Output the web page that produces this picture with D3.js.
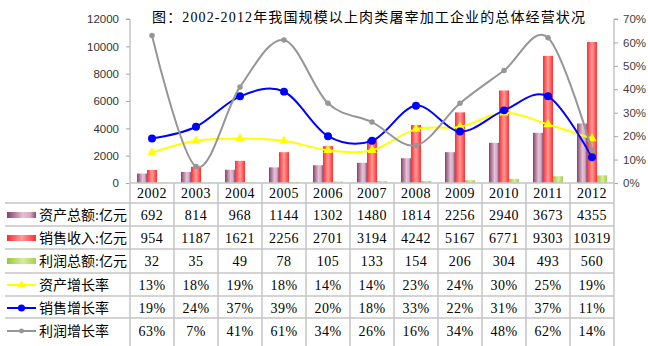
<!DOCTYPE html>
<html><head><meta charset="utf-8">
<script src="https://cdn.jsdelivr.net/npm/d3@7"></script>
<style>
html,body{margin:0;padding:0;background:#fff;}
svg{display:block;}
</style></head>
<body>
<svg id="c" width="648" height="346"></svg>
<script>
// ---- data ----
const years = ["2002","2003","2004","2005","2006","2007","2008","2009","2010","2011","2012"];
const assets = [692,814,968,1144,1302,1480,1814,2256,2940,3673,4355];
const sales = [954,1187,1621,2256,2701,3194,4242,5167,6771,9303,10319];
const profit = [32,35,49,78,105,133,154,206,304,493,560];
const assetGrowth = [13,18,19,18,14,14,23,24,30,25,19];
const salesGrowth = [19,24,37,39,20,18,33,22,31,37,11];
const profitGrowth = [63,7,41,61,34,26,16,34,48,62,14];
const leftTicks = [0,2000,4000,6000,8000,10000,12000];
const rightTicks = [0,10,20,30,40,50,60,70];
const barNames = ["资产总额:亿元","销售收入:亿元","利润总额:亿元"];
const lineNames = ["资产增长率","销售增长率","利润增长率"];
const title = "图：2002-2012年我国规模以上肉类屠宰加工企业的总体经营状况";

const svg = d3.select("#c");
const L = 130, R = 614, T = 19, B = 183;
const serif = "'Liberation Serif','Noto Sans CJK SC',serif";
const sans = "'Liberation Sans',Arial,sans-serif";

// gradients
const defs = svg.append("defs");
function grad(id, stops){
  const g = defs.append("linearGradient").attr("id", id).attr("x1","0").attr("x2","1").attr("y1","0").attr("y2","0");
  stops.forEach(s => g.append("stop").attr("offset", s[0]).attr("stop-color", s[1]));
}
grad("gP", [[0,"#874069"],[0.55,"#e3c1d4"],[0.8,"#d6abc3"],[1,"#8f4870"]]);
grad("gR", [[0,"#ff2b2b"],[0.5,"#ff9c9c"],[1,"#ff2f2f"]]);
grad("gG", [[0,"#98c832"],[0.55,"#d9eca3"],[1,"#a7d048"]]);
const fills = ["url(#gP)","url(#gR)","url(#gG)"];

// scales
const x = d3.scaleBand().domain(years).range([L, R]).paddingInner(14/44).paddingOuter(7/44);
const xCol = d3.scaleBand().domain(years).range([L, R]).padding(0);
const xs = d3.scaleBand().domain([0,1,2]).range([0, x.bandwidth()]);
const yL = d3.scaleLinear().domain([0,12000]).range([B, T]);
const yR = d3.scaleLinear().domain([0,70]).range([B, T]);
const cx = d => xCol(d) + xCol.bandwidth()/2;

// title
svg.append("text").attr("x", 152).attr("y", 22).attr("font-family", serif).attr("font-size", 14)
  .attr("fill", "#000").attr("textLength", 433).attr("lengthAdjust", "spacing").text(title);

// left axis
const axL = svg.append("g").attr("transform", `translate(${L},0)`)
  .call(d3.axisLeft(yL).tickValues(leftTicks).tickSize(4).tickPadding(7).tickFormat(d3.format("d")));
axL.select(".domain").attr("stroke", "#a6a6a6").attr("d", `M-4,${T}H0V${B}`);
axL.selectAll(".tick line").attr("stroke", "#a6a6a6");
axL.selectAll("text").attr("font-family", sans).attr("font-size", 11.5).attr("fill", "#333");

// right axis
const axR = svg.append("g").attr("transform", `translate(${R},0)`)
  .call(d3.axisRight(yR).tickValues(rightTicks).tickSize(4).tickPadding(5).tickFormat(d => d + "%"));
axR.select(".domain").attr("stroke", "#a6a6a6").attr("d", `M4,${T}H0V${B}`);
axR.selectAll(".tick line").attr("stroke", "#a6a6a6");
axR.selectAll("text").attr("font-family", sans).attr("font-size", 11.5).attr("fill", "#404040");

// bars
const barSeries = [assets, sales, profit];
barSeries.forEach((vals, si) => {
  svg.append("g").selectAll("rect").data(years).join("rect")
    .attr("x", (d) => x(d) + xs(si))
    .attr("width", xs.bandwidth())
    .attr("y", (d, i) => yL(vals[i]))
    .attr("height", (d, i) => B - yL(vals[i]))
    .attr("fill", fills[si]);
});

// lines
const lineSeries = [assetGrowth, salesGrowth, profitGrowth];
const lineColors = ["#ffff00", "#0000ff", "#969696"];
const markerTypes = [d3.symbolTriangle, d3.symbolCircle, d3.symbolCircle];
const markerSizes = [38, 50, 24];
const lineGen = d3.line().x(d => cx(d.y)).y(d => yR(d.v)).curve(d3.curveCardinal.tension(0));
lineSeries.forEach((vals, si) => {
  const pts = years.map((y, i) => ({y, v: vals[i]}));
  svg.append("path").attr("d", lineGen(pts)).attr("fill", "none")
    .attr("stroke", lineColors[si]).attr("stroke-width", 2);
  svg.append("g").selectAll("path").data(pts).join("path")
    .attr("d", d3.symbol().type(markerTypes[si]).size(markerSizes[si]))
    .attr("transform", d => `translate(${cx(d.y)},${yR(d.v)})`)
    .attr("fill", lineColors[si]);
});

// table
const grid = "#c4c4c4";
const rowLines = [203, 226, 249, 273, 296, 318];
const tg = svg.append("g");
svg.append("line").attr("x1", L).attr("x2", R).attr("y1", B).attr("y2", B).attr("stroke", grid).attr("stroke-width", 1.5);
rowLines.forEach(yv => tg.append("line").attr("x1", 5).attr("x2", R).attr("y1", yv).attr("y2", yv)
  .attr("stroke", grid).attr("stroke-width", 1.5));
const colEdges = years.map(y => xCol(y)).concat([R]);
colEdges.forEach(xv => tg.append("line").attr("x1", xv).attr("x2", xv).attr("y1", B).attr("y2", 346)
  .attr("stroke", grid).attr("stroke-width", 1.5));

// header years
const rowCenters = [193, 215, 238, 261, 285, 308, 331];
tg.selectAll("text.yr").data(years).join("text").attr("class", "yr")
  .attr("x", d => cx(d)).attr("y", rowCenters[0]).attr("dy", "0.35em")
  .attr("text-anchor", "middle").attr("font-family", serif).attr("font-size", 14).attr("fill", "#000")
  .attr("letter-spacing", 0.5)
  .text(d => d);

// data rows
const tableRows = [
  assets.map(String), sales.map(String), profit.map(String),
  assetGrowth.map(v => v + "%"), salesGrowth.map(v => v + "%"), profitGrowth.map(v => v + "%")
];
tableRows.forEach((row, ri) => {
  tg.append("g").selectAll("text").data(years).join("text")
    .attr("x", d => cx(d)).attr("y", rowCenters[ri + 1]).attr("dy", "0.35em")
    .attr("text-anchor", "middle").attr("font-family", serif).attr("font-size", 14).attr("fill", "#000")
    .attr("letter-spacing", 0.5)
    .text((d, i) => row[i]);
});

// legend column
const labels = barNames.concat(lineNames);
labels.forEach((lab, ri) => {
  const yc = rowCenters[ri + 1];
  if (ri < 3) {
    tg.append("rect").attr("x", 7).attr("y", yc - 3).attr("width", 29).attr("height", 6).attr("fill", fills[ri]);
  } else {
    const li = ri - 3;
    tg.append("line").attr("x1", 7).attr("x2", 36).attr("y1", yc).attr("y2", yc)
      .attr("stroke", lineColors[li]).attr("stroke-width", 2);
    tg.append("path").attr("d", d3.symbol().type(markerTypes[li]).size(markerSizes[li] * 0.8))
      .attr("transform", `translate(21.5,${yc})`).attr("fill", lineColors[li]);
  }
  tg.append("text").attr("x", 39).attr("y", yc).attr("dy", "0.36em")
    .attr("font-family", serif).attr("font-size", 14).attr("fill", "#000").text(lab);
});
</script>
</body></html>
